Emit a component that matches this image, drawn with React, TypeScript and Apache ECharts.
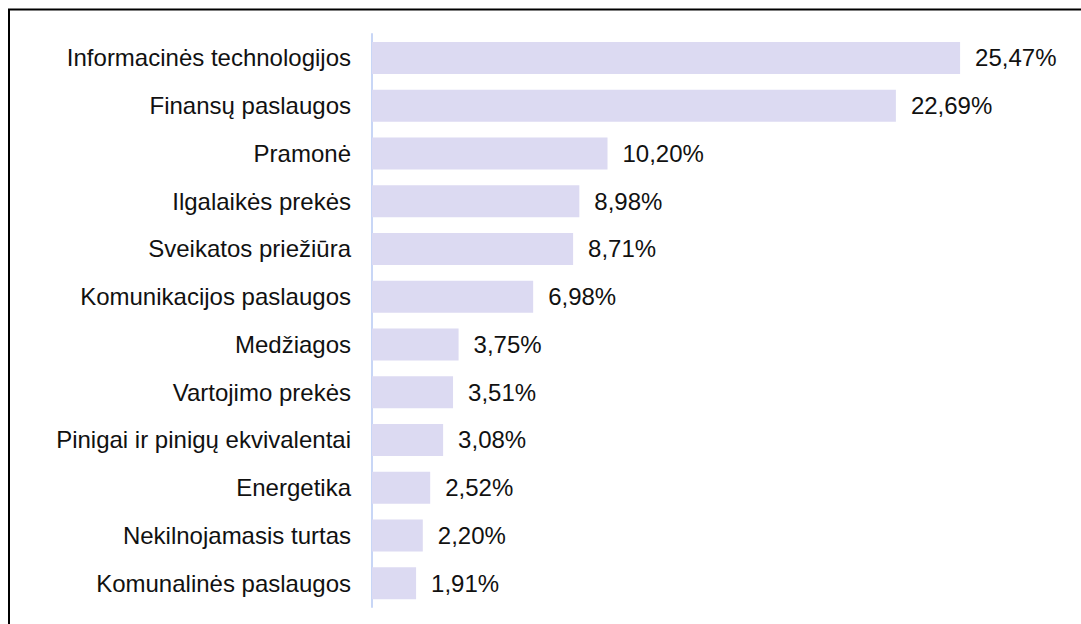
import React, { useEffect, useRef } from "react";
import * as echarts from "echarts";

const categories = [
  "Informacinės technologijos",
  "Finansų paslaugos",
  "Pramonė",
  "Ilgalaikės prekės",
  "Sveikatos priežiūra",
  "Komunikacijos paslaugos",
  "Medžiagos",
  "Vartojimo prekės",
  "Pinigai ir pinigų ekvivalentai",
  "Energetika",
  "Nekilnojamasis turtas",
  "Komunalinės paslaugos",
];
const values = [25.47, 22.69, 10.2, 8.98, 8.71, 6.98, 3.75, 3.51, 3.08, 2.52, 2.2, 1.91];

const FONT = "'Liberation Sans', Arial, sans-serif";

export default function App() {
  const ref = useRef<HTMLDivElement>(null);
  useEffect(() => {
    if (!ref.current) return;
    const chart = echarts.init(ref.current, undefined, { renderer: "svg" });
    chart.setOption({
      animation: false,
      backgroundColor: "#ffffff",
      textStyle: { fontFamily: FONT },
      grid: { left: 372, top: 34, bottom: 17, right: 62.5, containLabel: false },
      xAxis: {
        type: "value",
        min: 0,
        max: 28,
        show: false,
      },
      yAxis: {
        type: "category",
        data: categories,
        inverse: true,
        axisTick: { show: false },
        axisLine: { show: true, lineStyle: { color: "#c8d6f6", width: 2 } },
        axisLabel: { color: "#111111", fontSize: 24, fontFamily: FONT, margin: 21 },
        splitLine: { show: false },
      },
      graphic: [
        { type: "line", shape: { x1: 9, y1: 9.5, x2: 9, y2: 624 }, style: { stroke: "#000", lineWidth: 2 } },
        { type: "line", shape: { x1: 8, y1: 9.5, x2: 1081, y2: 9.5 }, style: { stroke: "#000", lineWidth: 2 } },
      ],
      series: [
        {
          type: "bar",
          data: values,
          barWidth: 32,
          itemStyle: { color: "#dcdaf2" },
          label: {
            show: true,
            position: "right",
            distance: 15,
            color: "#111111",
            fontSize: 24,
            fontFamily: FONT,
            formatter: (p: any) => p.value.toFixed(2).replace(".", ",") + "%",
          },
        },
      ],
    });
    return () => chart.dispose();
  }, []);
  return (
    <div
      ref={ref}
      style={{ position: "absolute", left: 0, top: 0, width: 1081, height: 624 }}
    />
  );
}
